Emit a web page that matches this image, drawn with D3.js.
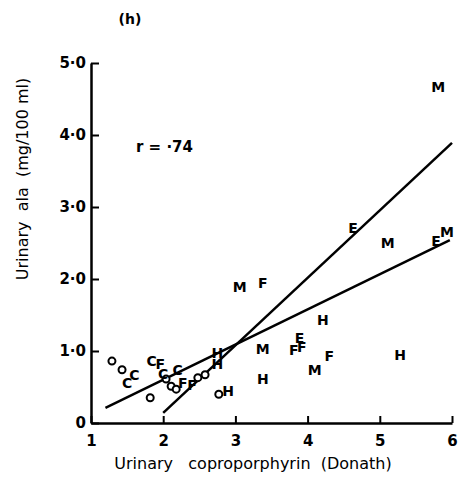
<!DOCTYPE html>
<html>
<head>
<meta charset="utf-8">
<script src="https://cdn.jsdelivr.net/npm/d3@7"></script>
<style>
body { margin: 0; background: #fff; }
text { font-family: "DejaVu Sans", sans-serif; fill: #000; }
</style>
</head>
<body>
<div id="chart"></div>
<script>
// 数据：符号、x（尿粪卟啉）、y（尿 ala）
var g_symbols = ["o","o","C","C","o","C","F","C","o","o","C","F","o","F","o","o","H","H","o","H",
	"M","F","M","H","E","F","F","F","M","H","H","E","M","E","M","M"];
var g_xVals = [1.29,1.43,1.60,1.50,1.82,1.84,1.96,2.00,2.04,2.11,2.20,2.27,2.18,2.40,2.48,2.58,2.75,2.75,2.77,2.90,
	3.38,3.38,3.06,4.21,3.89,3.81,3.92,4.30,4.10,3.38,5.28,4.63,5.11,5.78,5.93,5.81];
var g_yVals = [0.86,0.74,0.67,0.56,0.35,0.86,0.82,0.68,0.61,0.51,0.74,0.56,0.47,0.53,0.63,0.67,0.82,0.97,0.40,0.44,
	1.03,1.94,1.89,1.43,1.18,1.01,1.06,0.93,0.74,0.61,0.94,2.71,2.50,2.53,2.65,4.67];
// 回归线端点
var g_line1 = [[2.0, 0.14], [6.0, 3.89]];
var g_line2 = [[1.2, 0.21], [5.97, 2.54]];
var g_xTicks = [1, 2, 3, 4, 5, 6];
var g_yTicks = [0, 1, 2, 3, 4, 5];

var svg = d3.select("#chart").append("svg")
	.attr("width", 458)
	.attr("height", 483);

var x = d3.scaleLinear().domain([1, 6]).range([91, 452]);
var y = d3.scaleLinear().domain([0, 5]).range([423, 63]);

// 坐标轴
var xAxis = svg.append("g")
	.attr("transform", "translate(0,423)")
	.call(d3.axisBottom(x).tickValues(g_xTicks).tickSizeInner(-7).tickSizeOuter(0).tickPadding(12)
		.tickFormat(d3.format("d")));
var yAxis = svg.append("g")
	.attr("transform", "translate(91,0)")
	.call(d3.axisLeft(y).tickValues(g_yTicks).tickSizeInner(-8).tickSizeOuter(0).tickPadding(4)
		.tickFormat(function (d) { return d == 0 ? "0" : d.toFixed(1).replace(".", "·"); }));

[xAxis, yAxis].forEach(function (a) {
	a.select(".domain").attr("stroke", "#000").attr("stroke-width", 2.5);
	a.selectAll(".tick line").attr("stroke", "#000").attr("stroke-width", 2);
	a.selectAll(".tick text").style("font-size", "15px").style("font-weight", "bold")
		.style("font-family", "DejaVu Sans, sans-serif");
});
yAxis.selectAll(".tick text").attr("x", -5);

// 回归线
var line = d3.line()
	.x(function (d) { return x(d[0]); })
	.y(function (d) { return y(d[1]); });
[g_line1, g_line2].forEach(function (l) {
	svg.append("path")
		.attr("d", line(l))
		.attr("fill", "none")
		.attr("stroke", "#000")
		.attr("stroke-width", 2.5);
});

// 数据点
var pts = g_symbols.map(function (s, i) { return { s: s, x: g_xVals[i], y: g_yVals[i] }; });
svg.selectAll("circle.pt")
	.data(pts.filter(function (d) { return d.s == "o"; }))
	.enter()
	.append("circle")
	.attr("class", "pt")
	.attr("cx", function (d) { return x(d.x); })
	.attr("cy", function (d) { return y(d.y); })
	.attr("r", 3.5)
	.attr("fill", "#fff")
	.attr("stroke", "#000")
	.attr("stroke-width", 2);
svg.selectAll("text.pt")
	.data(pts.filter(function (d) { return d.s != "o"; }))
	.enter()
	.append("text")
	.attr("class", "pt")
	.attr("x", function (d) { return x(d.x); })
	.attr("y", function (d) { return y(d.y); })
	.attr("text-anchor", "middle")
	.attr("dominant-baseline", "central")
	.style("font-size", "14px")
	.style("font-weight", "bold")
	.text(function (d) { return d.s; });

// 文字
svg.append("text").attr("x", 130).attr("y", 24).attr("text-anchor", "middle")
	.style("font-size", "14px").style("font-weight", "bold").text("(h)");
svg.append("text").attr("x", 136).attr("y", 152)
	.style("font-size", "15px").style("font-weight", "bold").text("r = ·74");
svg.append("text").attr("x", 253).attr("y", 469).attr("text-anchor", "middle")
	.style("font-size", "16px").attr("xml:space", "preserve")
	.text("Urinary   coproporphyrin  (Donath)");
svg.append("text").attr("transform", "translate(28,179) rotate(-90)").attr("text-anchor", "middle")
	.style("font-size", "16px").attr("xml:space", "preserve")
	.text("Urinary  ala  (mg/100 ml)");
</script>
</body>
</html>
